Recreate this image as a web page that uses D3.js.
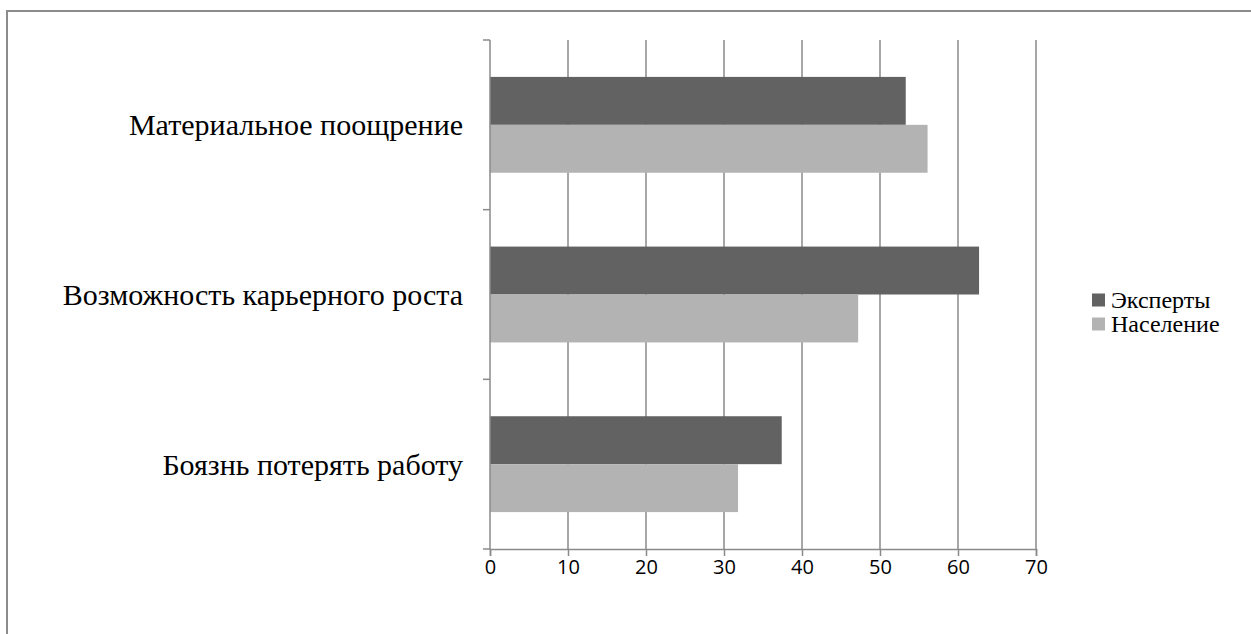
<!DOCTYPE html>
<html>
<head>
<meta charset="utf-8">
<script src="https://cdn.jsdelivr.net/npm/d3@7"></script>
<style>
  html, body { margin: 0; padding: 0; background: #fff; }
  svg { display: block; }
</style>
</head>
<body>
<svg id="chart" width="1251" height="634"></svg>
<script>
// Motivation factors, top to bottom
const categories = ["Материальное поощрение", "Возможность карьерного роста", "Боязнь потерять работу"];
const seriesNames = ["Эксперты", "Население"];
const expertsValues = [53.3, 62.7, 37.4];
const populationValues = [56.1, 47.2, 31.8];
const xTicks = [0, 10, 20, 30, 40, 50, 60, 70];
const seriesColors = ["#626262", "#b3b3b3"];

const svg = d3.select("#chart");

// outer frame of the chart object (right and bottom edges run off the page)
svg.append("rect")
  .attr("x", 7).attr("y", 11)
  .attr("width", 1300).attr("height", 700)
  .attr("fill", "none").attr("stroke", "#8c8c8c").attr("stroke-width", 2);

const plot = { left: 490, right: 1036, top: 40, bottom: 549 };

const x = d3.scaleLinear().domain([0, 70]).range([plot.left, plot.right]);
const y = d3.scaleBand().domain(categories).range([plot.top, plot.bottom]).paddingInner(0).paddingOuter(0);
const inner = d3.scaleBand().domain(seriesNames).range([0, y.bandwidth()]).paddingOuter(0.77).paddingInner(0);

const gridColor = "#8a8a8a";

// vertical gridlines
svg.append("g").selectAll("line")
  .data(xTicks.slice(1))
  .join("line")
  .attr("x1", d => x(d)).attr("x2", d => x(d))
  .attr("y1", plot.top).attr("y2", plot.bottom)
  .attr("stroke", gridColor).attr("stroke-width", 1.5);

// bars
const rows = categories.map((c, i) => ({ cat: c, values: [expertsValues[i], populationValues[i]] }));
const groups = svg.append("g").selectAll("g")
  .data(rows).join("g")
  .attr("transform", d => `translate(0,${y(d.cat)})`);
groups.selectAll("rect")
  .data(d => d.values.map((v, j) => ({ name: seriesNames[j], value: v, color: seriesColors[j] })))
  .join("rect")
  .attr("x", x(0))
  .attr("y", d => inner(d.name))
  .attr("width", d => x(d.value) - x(0))
  .attr("height", inner.bandwidth())
  .attr("fill", d => d.color);

// x axis
const xAxis = d3.axisBottom(x).tickValues(xTicks).tickSize(7).tickPadding(4).tickFormat(d3.format("d"));
const gx = svg.append("g").attr("transform", `translate(0,${plot.bottom})`).call(xAxis);
gx.select(".domain").attr("stroke", gridColor).attr("stroke-width", 1.5);
gx.selectAll(".tick line").attr("stroke", gridColor).attr("stroke-width", 1.5);
gx.selectAll(".tick text")
  .attr("fill", "#000")
  .attr("font-family", "'Open Sans', 'Liberation Sans', sans-serif")
  .attr("font-size", 20);

// y axis: tick marks at category boundaries, labels at band centres
const boundaries = d3.range(categories.length + 1).map(i => plot.top + i * y.step());
const gy = svg.append("g");
gy.append("line")
  .attr("x1", plot.left).attr("x2", plot.left)
  .attr("y1", plot.top).attr("y2", plot.bottom)
  .attr("stroke", gridColor).attr("stroke-width", 1.5);
gy.selectAll("line.tk").data(boundaries).join("line").attr("class", "tk")
  .attr("x1", plot.left - 7).attr("x2", plot.left)
  .attr("y1", d => d).attr("y2", d => d)
  .attr("stroke", gridColor).attr("stroke-width", 1.5);
gy.selectAll("text").data(categories).join("text")
  .attr("x", plot.left - 27)
  .attr("y", d => y(d) + y.bandwidth() / 2)
  .attr("dy", "0.35em")
  .attr("text-anchor", "end")
  .attr("font-family", "'Liberation Serif', 'Times New Roman', serif")
  .attr("font-size", 30)
  .attr("fill", "#000")
  .text(d => d);

// legend
const legend = svg.append("g").attr("transform", "translate(1092,300)");
const li = legend.selectAll("g").data(seriesNames).join("g")
  .attr("transform", (d, i) => `translate(0,${i * 24})`);
li.append("rect")
  .attr("x", 0).attr("y", -6.5).attr("width", 13).attr("height", 13)
  .attr("fill", (d, i) => seriesColors[i]);
li.append("text")
  .attr("x", 19).attr("y", 0).attr("dy", "0.35em")
  .attr("font-family", "'Liberation Serif', 'Times New Roman', serif")
  .attr("font-size", 24)
  .attr("fill", "#000")
  .text(d => d);
</script>
</body>
</html>
